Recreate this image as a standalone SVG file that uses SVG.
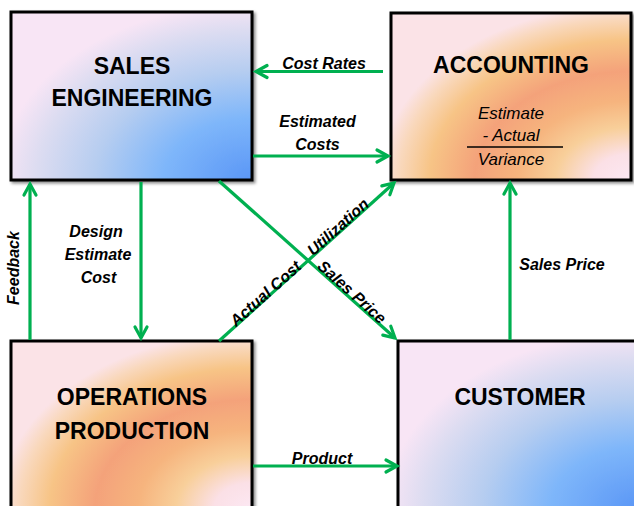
<svg xmlns="http://www.w3.org/2000/svg" width="634" height="506" viewBox="0 0 634 506">
  <style>
    .box { stroke: #000; stroke-width: 3; filter: url(#shadow); }
    .hd { font-family: "Liberation Sans", Arial, sans-serif; font-weight: bold; font-size: 23px; fill: #000; text-anchor: middle; }
    .lbl { font-family: "Liberation Sans", Arial, sans-serif; font-weight: bold; font-style: italic; font-size: 16px; fill: #000; text-anchor: middle; }
    .frm { font-family: "Liberation Sans", Arial, sans-serif; font-style: italic; font-size: 17px; fill: #000; text-anchor: middle; }
    .flow { fill: none; stroke: #00b050; stroke-width: 3.2; marker-end: url(#arrow); }
  </style>
  <defs>
    <radialGradient id="blueFill" cx="1" cy="1" r="1.05" fx="1" fy="1">
      <stop offset="0" stop-color="#5a96f6"/>
      <stop offset="0.35" stop-color="#7eb6fa"/>
      <stop offset="0.62" stop-color="#b6cdf0"/>
      <stop offset="0.85" stop-color="#dcdcf1"/>
      <stop offset="1" stop-color="#f8e5f5"/>
    </radialGradient>
    <radialGradient id="orangeFill" cx="1" cy="1" r="1.05" fx="1" fy="1">
      <stop offset="0" stop-color="#fce8f3"/>
      <stop offset="0.15" stop-color="#fbe0e6"/>
      <stop offset="0.3" stop-color="#f8cf9a"/>
      <stop offset="0.45" stop-color="#f6b47e"/>
      <stop offset="0.62" stop-color="#f4a27a"/>
      <stop offset="0.8" stop-color="#f7c486"/>
      <stop offset="0.92" stop-color="#f9d8bc"/>
      <stop offset="1" stop-color="#fbe3e7"/>
    </radialGradient>
    <filter id="shadow" x="-5%" y="-5%" width="115%" height="115%">
      <feDropShadow dx="2" dy="2" stdDeviation="1.5" flood-color="#000" flood-opacity="0.45"/>
    </filter>
    <marker id="arrow" markerUnits="userSpaceOnUse" markerWidth="16" markerHeight="16" viewBox="0 0 16 16" refX="12" refY="8" orient="auto" overflow="visible">
      <path d="M1,2 L12,8 L1,14" fill="none" stroke="#00b050" stroke-width="3.2" stroke-linecap="round"/>
    </marker>
  </defs>

  <!-- nodes -->
  <g id="sales-engineering">
    <rect class="box" x="11" y="12" width="241" height="168" fill="url(#blueFill)"/>
    <text class="hd" x="132" y="74">SALES</text>
    <text class="hd" x="132" y="106">ENGINEERING</text>
  </g>

  <g id="accounting">
    <rect class="box" x="391" y="13" width="240" height="167" fill="url(#orangeFill)"/>
    <text class="hd" x="511" y="73">ACCOUNTING</text>
    <text class="frm" x="511" y="119">Estimate</text>
    <text class="frm" x="511" y="141">- Actual</text>
    <line x1="467" y1="147" x2="563" y2="147" stroke="#000" stroke-width="1.3"/>
    <text class="frm" x="511" y="165">Variance</text>
  </g>

  <g id="operations-production">
    <rect class="box" x="11" y="341" width="241" height="168" fill="url(#orangeFill)"/>
    <text class="hd" x="132" y="405">OPERATIONS</text>
    <text class="hd" x="132" y="439">PRODUCTION</text>
  </g>

  <g id="customer">
    <rect class="box" x="398" y="341" width="241" height="168" fill="url(#blueFill)"/>
    <text class="hd" x="520" y="405">CUSTOMER</text>
  </g>

  <!-- connectors -->
  <g id="connectors">
    <path class="flow" d="M383,71.5 L256,71.5"/>
    <path class="flow" d="M253,156 L388,156"/>
    <path class="flow" d="M141,182 L141,338"/>
    <path class="flow" d="M30,340 L30,184"/>
    <path class="flow" d="M510,340 L510,183"/>
    <path class="flow" d="M219,181 L395,338"/>
    <path class="flow" d="M219,341 L394,183"/>
    <path class="flow" d="M253,466 L397,466"/>

    <text class="lbl" x="324" y="69">Cost Rates</text>
    <text class="lbl" x="317.5" y="127">Estimated</text>
    <text class="lbl" x="317.5" y="150">Costs</text>
    <text class="lbl" x="96" y="237">Design</text>
    <text class="lbl" x="98" y="260">Estimate</text>
    <text class="lbl" x="98.5" y="283">Cost</text>
    <text class="lbl" transform="translate(19,268) rotate(-90)">Feedback</text>
    <text class="lbl" x="562" y="270">Sales Price</text>
    <text class="lbl" x="322" y="464">Product</text>
    <text class="lbl" transform="translate(352,292) rotate(41.9)" y="5.5">Sales Price</text>
    <text class="lbl" transform="translate(265.5,293.5) rotate(-41.9)" y="5.5">Actual Cost</text>
    <text class="lbl" transform="translate(338,227) rotate(-41.9)" y="5.5">Utilization</text>
  </g>
</svg>
